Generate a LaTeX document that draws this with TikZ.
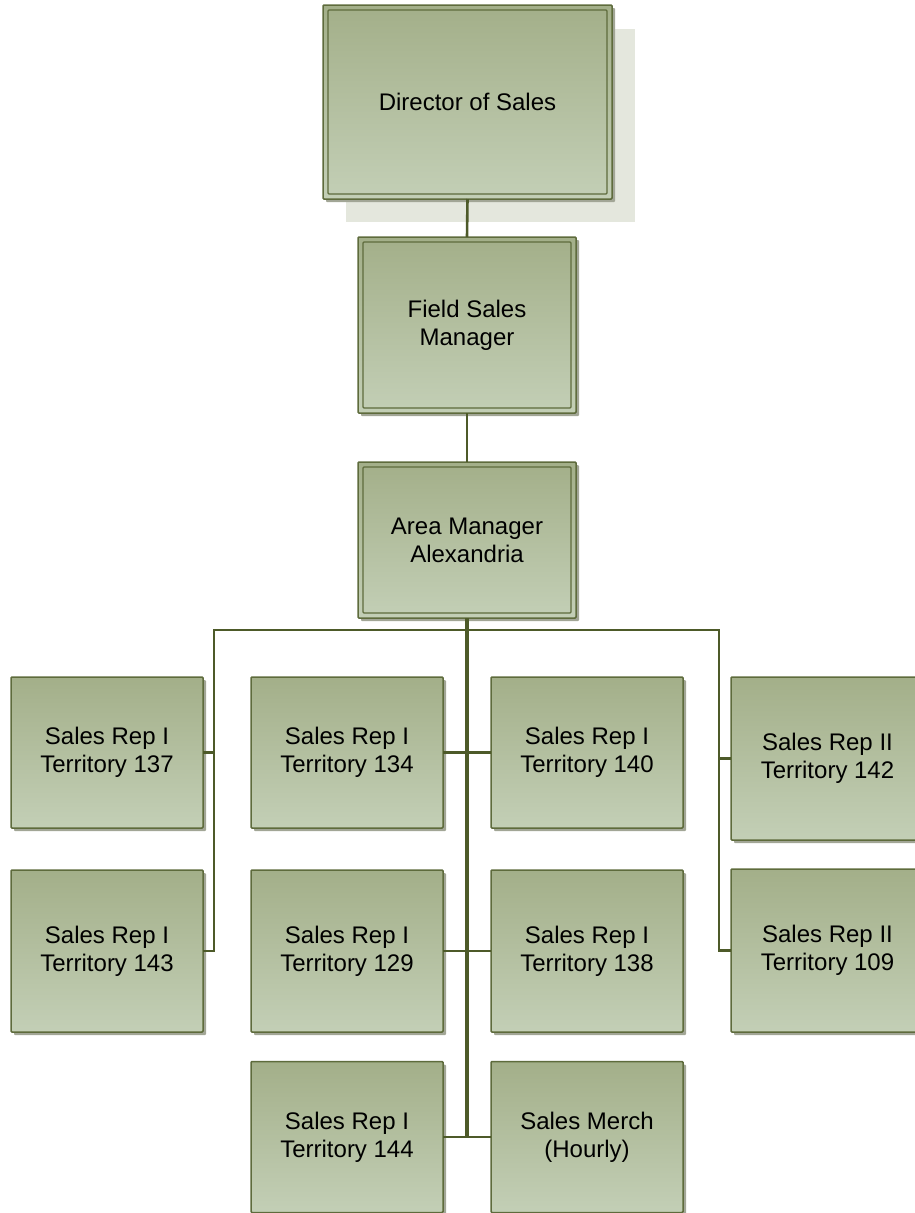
\documentclass[tikz,border=0pt]{standalone}
\usepackage{fontspec}
\setmainfont{Liberation Sans}
\usetikzlibrary{shadows}
\definecolor{boxtop}{HTML}{A3AF89}
\definecolor{boxbot}{HTML}{C3CFB6}
\definecolor{boxline}{HTML}{5E6B3C}
\definecolor{conn}{HTML}{4D5A29}
\definecolor{shcol}{HTML}{A2A696}
\definecolor{bigsh}{HTML}{E4E7DD}
\tikzset{
  orgbox/.style={draw=boxline, line width=1.5pt, top color=boxtop, bottom color=boxbot,
    rounded corners=1pt, inner sep=0pt, outer sep=0pt, align=center,
    font=\fontsize{24}{28}\selectfont,
    drop shadow={shadow xshift=3pt, shadow yshift=-3pt, fill=shcol, opacity=1}},
  topbox/.style={orgbox},
  innerline/.style={draw=boxline, line width=1.3pt, rounded corners=1pt},
  link/.style={draw=conn, line width=2.6pt},
  trunk/.style={draw=conn, line width=3.6pt}
}
\begin{document}
\begin{tikzpicture}[x=1pt,y=-1pt]
\useasboundingbox (0,0) rectangle (914,1213);
% big shadow of director
\fill[bigsh] (346,29) rectangle (635,222);
\node[orgbox, drop shadow={opacity=0}, minimum width=289pt, minimum height=194pt] (dir) at (467.5,102) {Director of Sales};
\node[topbox, minimum width=218pt, minimum height=176pt] (fsm) at (467,325) {Field Sales\\Manager};
\node[topbox, minimum width=218pt, minimum height=156pt] (am) at (467,540) {Area Manager\\Alexandria};
\foreach \n in {dir,fsm,am}{
  \draw[innerline] ([shift={(5pt,-5pt)}]\n.north west) rectangle ([shift={(-5pt,5pt)}]\n.south east);
}
% rows
\node[orgbox, minimum width=192pt, minimum height=151pt] (r137) at (107,752.5) {Sales Rep I\\Territory 137};
\node[orgbox, minimum width=192pt, minimum height=162pt] (r143) at (107,951) {Sales Rep I\\Territory 143};
\node[orgbox, minimum width=192pt, minimum height=151pt] (r134) at (347,752.5) {Sales Rep I\\Territory 134};
\node[orgbox, minimum width=192pt, minimum height=162pt] (r129) at (347,951) {Sales Rep I\\Territory 129};
\node[orgbox, minimum width=192pt, minimum height=151pt] (r144) at (347,1137) {Sales Rep I\\Territory 144};
\node[orgbox, minimum width=192pt, minimum height=151pt] (r140) at (587,752.5) {Sales Rep I\\Territory 140};
\node[orgbox, minimum width=192pt, minimum height=162pt] (r138) at (587,951) {Sales Rep I\\Territory 138};
\node[orgbox, minimum width=192pt, minimum height=151pt] (merch) at (587,1137) {Sales Merch\\(Hourly)};
\node[orgbox, minimum width=193pt, minimum height=163pt] (r142) at (827.5,758.5) {Sales Rep II\\Territory 142};
\node[orgbox, minimum width=193pt, minimum height=163pt] (r109) at (827.5,950.5) {Sales Rep II\\Territory 109};
% connectors
\coordinate (busL) at (214,630);
\coordinate (busR) at (719,630);
\draw[link] (dir.south) -- (fsm.north);
\draw[link] (fsm.south) -- (am.north);
\draw[link, line cap=rect] (busL) -- (busR);
\draw[link] (busL) |- (r137.east);
\draw[link] (busL) |- (r143.east);
\draw[link] (busR) |- (r142.west);
\draw[link] (busR) |- (r109.west);
\draw[link] (r134.east) -- (r140.west);
\draw[link] (r129.east) -- (r138.west);
\draw[link] (r144.east) -- (merch.west);
\draw[trunk] (am.south) -- (am.south |- r144.east);
\end{tikzpicture}
\end{document}
